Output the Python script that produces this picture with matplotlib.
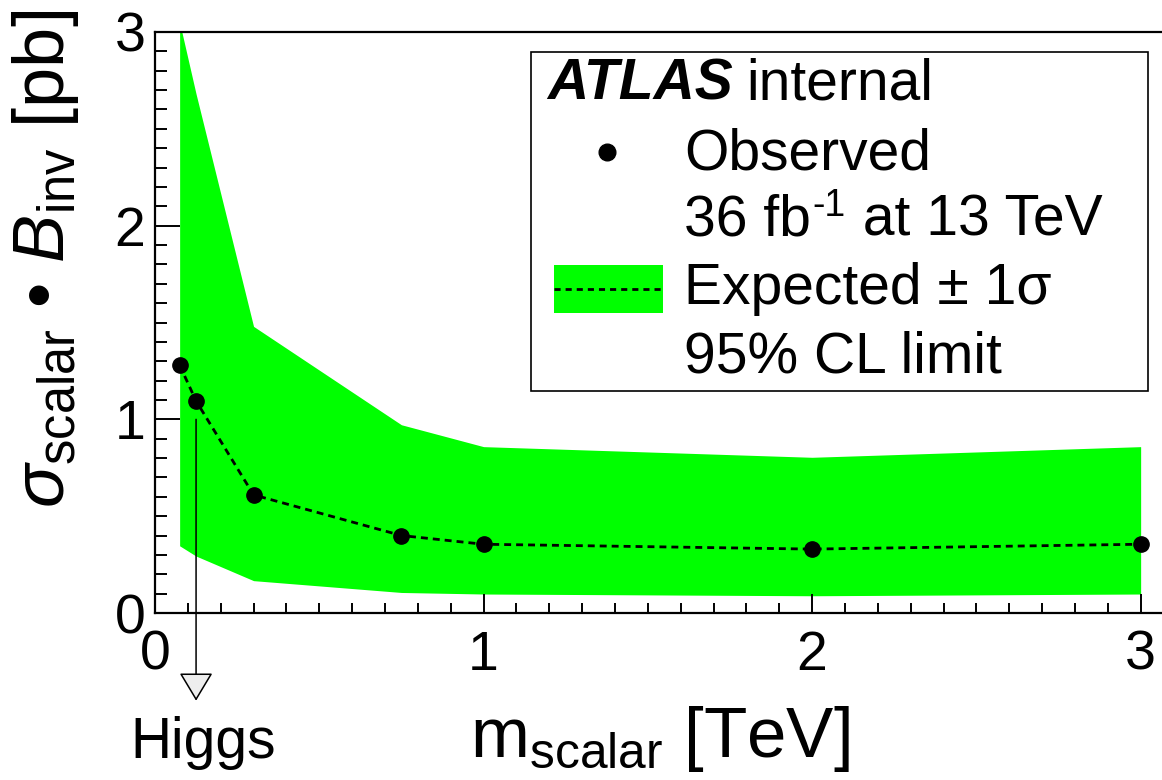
import matplotlib
matplotlib.use('Agg')
import matplotlib.pyplot as plt
from matplotlib.patches import Rectangle
from matplotlib.lines import Line2D
from matplotlib.ticker import MultipleLocator

plt.rcParams['font.family'] = ['Liberation Sans', 'DejaVu Sans']
plt.rcParams['mathtext.fontset'] = 'custom'
plt.rcParams['mathtext.rm'] = 'Liberation Sans'
plt.rcParams['mathtext.it'] = 'Liberation Sans:italic'
plt.rcParams['mathtext.bf'] = 'Liberation Sans:bold'

# scalar mass points [TeV] and limits [pb]
mass = [0.075, 0.125, 0.3, 0.75, 1.0, 2.0, 3.0]
observed = [1.28, 1.095, 0.61, 0.40, 0.355, 0.33, 0.355]
expected = [1.28, 1.095, 0.61, 0.40, 0.355, 0.33, 0.355]
exp_up = [3.05, 2.68, 1.48, 0.972, 0.859, 0.804, 0.859]
exp_down = [0.347, 0.294, 0.167, 0.106, 0.098, 0.089, 0.098]
higgs_mass = 0.125

x_ticks = [0, 1, 2, 3]
y_ticks = [0, 1, 2, 3]

W, H = 1162, 780


def fx(px):
    return px / W


def fy(py):
    return 1 - py / H


fig = plt.figure(figsize=(W / 100, H / 100), dpi=100)
ax = fig.add_axes([fx(155), fy(613), fx(W - 155), (613 - 32) / H])

ax.fill_between(mass, exp_down, exp_up, color='#00ff00', lw=0, zorder=1)
ax.plot(mass, expected, color='black', lw=2, dashes=(2.5, 1.8), zorder=2)
ax.plot(mass, observed, 'o', color='black', ms=11, zorder=3)

ax.set_xlim(0, 3.065)
ax.set_ylim(0, 3)

for side in ['left', 'bottom', 'top']:
    ax.spines[side].set_linewidth(1.6)
ax.spines['right'].set_visible(False)

ax.set_xticks(x_ticks)
ax.set_xticklabels([str(t) for t in x_ticks])
ax.set_yticks(y_ticks)
ax.set_yticklabels([str(t) for t in y_ticks])
ax.xaxis.set_minor_locator(MultipleLocator(0.1))
ax.yaxis.set_minor_locator(MultipleLocator(0.1))
ax.tick_params(axis='both', which='both', direction='in', width=1.4,
               labelsize=40, top=False, right=False)
ax.tick_params(axis='x', which='major', length=13.7, pad=12)
ax.tick_params(axis='x', which='minor', length=7)
ax.tick_params(axis='y', which='major', length=18, pad=7)
ax.tick_params(axis='y', which='minor', length=8.6)

# Higgs marker arrow
ax.annotate('', xy=(higgs_mass, -0.453), xytext=(higgs_mass, 1.0),
            arrowprops=dict(arrowstyle='-|>,head_length=18,head_width=10.8',
                            mutation_scale=1, lw=1.1, ec='black', fc='#eeeeee',
                            shrinkA=0, shrinkB=0),
            annotation_clip=False)
fig.text(fx(203), fy(758), 'Higgs', fontsize=41, ha='center', va='baseline')

# axis titles
fig.text(fx(850), fy(757), r'm$_{\mathrm{scalar}}$ [TeV]', fontsize=51,
         ha='right', va='baseline')
fig.text(fx(46), fy(10), r'$\sigma_{\mathrm{scalar}}$ • $B_{\mathrm{inv}}$ [pb]',
         fontsize=52, rotation=90, ha='center', va='top')

# legend box
fig.patches.append(Rectangle((fx(531), fy(391)), fx(1148 - 531), (391 - 52) / H,
                             transform=fig.transFigure, fill=False,
                             ec='black', lw=1.2))

renderer = fig.canvas.get_renderer()


def right_px(t):
    return t.get_window_extent(renderer).x1


t_atlas = fig.text(fx(547), fy(100), 'ATLAS', fontsize=41, fontweight='bold',
                   fontstyle='italic', va='baseline')
fig.text((right_px(t_atlas) + 14) / W, fy(100), 'internal', fontsize=41,
         va='baseline')

fig.lines.append(Line2D([fx(607)], [fy(152)], marker='o', ms=12,
                        color='black', transform=fig.transFigure))
fig.text(fx(684), fy(169), 'Observed', fontsize=41, va='baseline')

t_lumi = fig.text(fx(684), fy(236), '36 fb', fontsize=41, va='baseline')
t_exp = fig.text((right_px(t_lumi) + 1) / W, fy(216), '-1', fontsize=27,
                 va='baseline')
fig.text((right_px(t_exp) + 2) / W, fy(236), ' at 13 TeV', fontsize=41,
         va='baseline')

fig.patches.append(Rectangle((fx(554), fy(313)), fx(663 - 554), (313 - 265) / H,
                             transform=fig.transFigure, color='#00ff00', lw=0))
fig.lines.append(Line2D([fx(554), fx(663)], [fy(289), fy(289)], color='black',
                        lw=2, dashes=(2.2, 1.8), transform=fig.transFigure))
fig.text(fx(684), fy(304), 'Expected ± 1σ', fontsize=41, va='baseline')
fig.text(fx(684), fy(372), '95% CL limit', fontsize=41, va='baseline')

fig.savefig('out.png', dpi=100)
